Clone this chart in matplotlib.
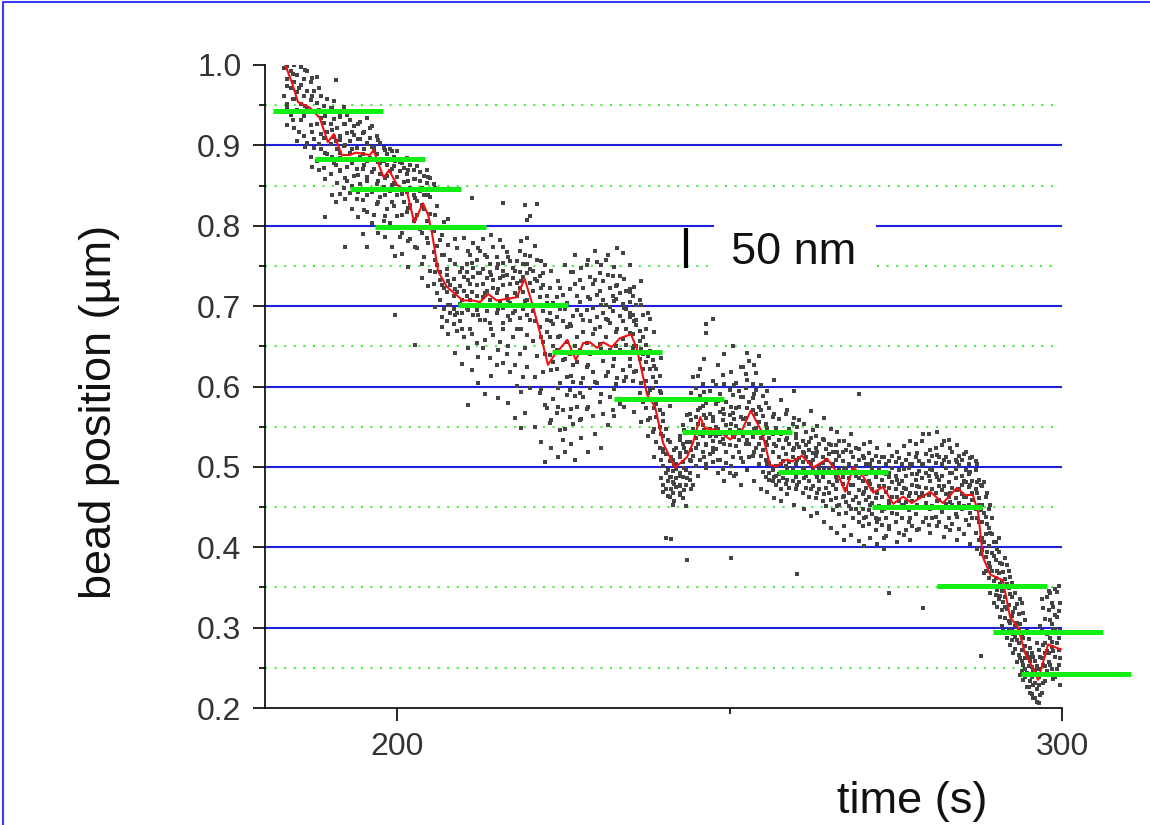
import matplotlib
matplotlib.use('Agg')
import matplotlib.pyplot as plt
from matplotlib.lines import Line2D

plt.rcParams['font.family'] = ['Liberation Sans', 'DejaVu Sans']

solid_levels = [0.9, 0.8, 0.7, 0.6, 0.5, 0.4, 0.3]
dotted_levels = [0.95, 0.85, 0.75, 0.65, 0.55, 0.45, 0.35, 0.25]

# steps fitted by eye: start, end, level
step_start = [181.4, 187.7, 192.9, 196.7, 209.2, 223.3, 232.6, 242.9, 257.3, 271.4, 281.2, 289.6, 293.8]
step_end = [197.9, 204.2, 209.6, 213.4, 225.7, 239.8, 249.2, 259.4, 273.8, 288.0, 297.7, 306.2, 310.4]
step_level = [0.943, 0.883, 0.846, 0.799, 0.701, 0.643, 0.585, 0.543, 0.494, 0.450, 0.352, 0.294, 0.242]

# smoothed trace
trace_t = [183.2, 183.3, 184.2, 185.1, 186.9, 188.4, 189.6, 190.5, 191.7, 192.9, 193.8, 195.9, 196.5, 197.4,
           198.0, 198.8, 200.0, 201.5, 202.6, 203.9, 204.7, 205.3, 206.2, 207.5, 209.9, 211.4, 212.5, 213.7,
           215.0, 218.0, 219.2, 220.3, 221.5, 222.7, 223.5, 225.6, 226.9, 228.0, 229.0, 230.1, 231.0, 232.3,
           233.5, 235.2, 236.1, 237.6, 238.8, 240.0, 241.8, 243.6, 244.5, 245.6, 246.3, 248.1, 250.1, 251.9,
           253.2, 254.9, 256.1, 257.1, 258.6, 259.5, 260.9, 262.6, 264.7, 266.2, 267.4, 268.6, 270.1, 271.6,
           273.1, 274.6, 276.1, 277.4, 280.2, 282.1, 284.2, 285.4, 286.6, 287.4, 288.1, 289.2, 291.1, 292.2,
           293.4, 294.4, 295.9, 296.4, 297.4, 297.9, 299.8]
trace_y = [1.0, 0.998, 0.978, 0.954, 0.947, 0.934, 0.904, 0.914, 0.888, 0.888, 0.891, 0.888, 0.894, 0.873,
           0.860, 0.869, 0.851, 0.842, 0.804, 0.828, 0.813, 0.789, 0.743, 0.724, 0.707, 0.707, 0.705, 0.715,
           0.707, 0.711, 0.734, 0.704, 0.667, 0.627, 0.637, 0.658, 0.633, 0.654, 0.655, 0.648, 0.655, 0.649,
           0.660, 0.665, 0.646, 0.590, 0.575, 0.530, 0.499, 0.512, 0.530, 0.562, 0.548, 0.546, 0.534, 0.546,
           0.570, 0.543, 0.502, 0.501, 0.509, 0.507, 0.514, 0.499, 0.510, 0.493, 0.469, 0.499, 0.488, 0.468,
           0.475, 0.454, 0.463, 0.455, 0.469, 0.455, 0.474, 0.465, 0.465, 0.443, 0.388, 0.366, 0.359, 0.313,
           0.300, 0.269, 0.245, 0.235, 0.264, 0.279, 0.273]

# raw readings: each row is time, then positions
dots_a = [
    (183.0, .996, .962, .941), (183.5, .983, .951, .999, .925), (184.0, .971, .992, .938), (184.5, .958, 1.0, .921, .979),
    (185.0, .987, .944, .905, .966), (185.5, .931, .975, .998, .952), (186.0, .912, .961, .983, .937), (186.5, .968, .903, .945, .992),
    (187.0, .925, .957, .886, .979), (187.5, .941, .908, .968, .897), (188.0, .881, .953, .926, .985), (188.5, .934, .895, .962, .914),
    (189.0, .872, .949, .909, .928), (189.5, .941, .889, .958, .917), (190.0, .864, .926, .902, .947), (190.5, .933, .878, .955, .911),
    (191.0, .853, .921, .895, .942), (191.5, .907, .869, .935, .884), (192.0, .926, .847, .899, .948), (192.5, .915, .873, .938, .856),
    (193.0, .891, .931, .841, .905), (193.5, .924, .862, .882, .913), (194.0, .833, .897, .941, .871), (194.5, .908, .852, .929, .886),
    (195.0, .819, .875, .917, .895), (195.5, .902, .838, .934, .861), (196.0, .884, .909, .846, .921), (196.5, .871, .813, .898, .893),
    (197.0, .827, .889, .912, .852), (197.5, .865, .903, .836, .878),
]
dots_b = [
    (198.0, .806, .881, .897, .848), (198.5, .862, .889, .821, .875), (199.0, .843, .895, .803, .868), (199.5, .874, .825, .886, .853),
    (200.0, .861, .893, .812, .838), (200.5, .879, .786, .846, .868), (201.0, .829, .872, .855, .798), (201.5, .884, .817, .864, .842),
    (202.0, .847, .783, .875, .826), (202.5, .869, .806, .838, .858), (203.0, .831, .874, .772, .813), (203.5, .856, .796, .843, .867),
    (204.0, .821, .862, .761, .838), (204.5, .853, .785, .806, .869), (205.0, .744, .836, .815, .859), (205.5, .794, .852, .728, .767),
    (206.0, .824, .716, .775, .751), (206.5, .782, .708, .742, .733), (207.0, .763, .697, .722, .805), (207.5, .718, .681, .746, .739),
    (208.0, .701, .758, .691, .726), (208.5, .734, .678, .712, .696), (209.0, .772, .691, .669, .718), (209.5, .742, .703, .725, .682),
    (210.0, .785, .661, .719, .736), (210.5, .698, .752, .713, .743), (211.0, .672, .727, .764, .708), (211.5, .736, .689, .778, .747),
    (212.0, .654, .712, .758, .726, .695), (212.5, .741, .702, .683, .769), (213.0, .728, .746, .648, .711, .784), (213.5, .694, .761, .719, .735),
    (214.0, .636, .742, .708, .752, .679), (214.5, .722, .773, .664, .733), (215.0, .748, .691, .627, .716, .761), (215.5, .705, .735, .655, .782),
    (216.0, .672, .726, .754, .698, .744), (216.5, .739, .641, .712, .767), (217.0, .618, .683, .728, .756, .704), (217.5, .735, .662, .747, .692),
    (218.0, .713, .601, .756, .729, .672), (218.5, .743, .685, .722, .769, .641), (219.0, .697, .736, .752, .612, .718), (219.5, .741, .664, .785, .708),
    (220.0, .729, .683, .762, .598, .746, .812), (220.5, .719, .656, .694, .744), (221.0, .702, .638, .757, .731, .827), (221.5, .674, .711, .592, .737),
]
dots_c = [
    (222.0, .694, .655, .726, .618, .741), (222.5, .668, .712, .573, .704, .683), (223.0, .639, .691, .722, .554, .661), (223.5, .678, .704, .585, .631, .651),
    (224.0, .622, .687, .711, .567, .645), (224.5, .663, .546, .696, .604, .722), (225.0, .633, .682, .534, .571, .714), (225.5, .655, .612, .704, .589, .674),
    (226.0, .596, .678, .721, .562, .641), (226.5, .688, .627, .553, .743, .606), (227.0, .574, .661, .712, .631, .695), (227.5, .705, .592, .646, .733, .558),
    (228.0, .683, .611, .668, .722, .587), (228.5, .624, .751, .695, .572, .654), (229.0, .709, .598, .641, .682, .736), (229.5, .665, .727, .563, .618, .698),
    (230.0, .687, .604, .755, .642, .714), (230.5, .719, .581, .674, .653, .741), (231.0, .632, .692, .566, .731, .708), (231.5, .701, .613, .757, .662, .684),
    (232.0, .645, .723, .587, .679, .699), (232.5, .694, .625, .738, .571, .712), (233.0, .668, .709, .603, .725, .651), (233.5, .716, .578, .688, .645, .738),
    (234.0, .681, .621, .703, .659, .766), (234.5, .697, .612, .672, .719, .652), (235.0, .666, .705, .634, .721, .687), (235.5, .689, .607, .648, .712, .665),
    (236.0, .702, .651, .683, .619, .677), (236.5, .634, .669, .708, .592, .656), (237.0, .661, .581, .689, .622, .641), (237.5, .607, .652, .573, .631, .672),
    (238.0, .644, .596, .561, .622, .684), (238.5, .583, .612, .543, .633, .598), (239.0, .562, .605, .531, .578, .622), (239.5, .594, .549, .524, .571, .613),
]
dots_d = [
    (240.0, .539, .501, .566, .478, .522), (240.5, .516, .473, .547, .493, .412), (241.0, .488, .531, .462, .507, .576), (241.5, .509, .468, .495, .481, .452),
    (242.0, .497, .475, .523, .486, .504), (242.5, .467, .512, .493, .539, .478), (243.0, .506, .487, .461, .528, .552), (243.5, .478, .518, .542, .496, .451),
    (244.0, .531, .492, .566, .509, .484), (244.5, .513, .478, .584, .547, .612), (245.0, .562, .501, .536, .598, .524), (245.5, .541, .588, .508, .622, .573),
    (246.0, .552, .519, .603, .576, .538), (246.5, .527, .579, .561, .503, .678), (247.0, .594, .538, .516, .566, .547), (247.5, .557, .506, .585, .532, .524),
    (248.0, .522, .578, .549, .602, .538), (248.5, .568, .509, .541, .591, .531), (249.0, .535, .614, .497, .558, .572), (249.5, .519, .552, .581, .541, .505),
    (250.0, .596, .527, .546, .492, .564), (250.5, .538, .567, .512, .589, .651), (251.0, .551, .491, .604, .526, .573), (251.5, .574, .518, .546, .533, .595),
    (252.0, .506, .587, .559, .624, .538), (252.5, .561, .529, .598, .544, .615), (253.0, .581, .512, .632, .553, .528), (253.5, .537, .603, .571, .514, .586),
    (254.0, .596, .548, .523, .617, .566), (254.5, .529, .574, .503, .556, .638), (255.0, .541, .494, .588, .521, .563), (255.5, .509, .553, .487, .531, .579),
    (256.0, .492, .536, .573, .505, .484), (256.5, .518, .482, .562, .496, .541), (257.0, .501, .548, .477, .526, .489), (257.5, .534, .491, .512, .559, .483),
]
dots_e = [
    (258.0, .507, .544, .486, .523, .493), (258.5, .479, .516, .566, .501, .534), (259.0, .529, .492, .506, .547, .474), (259.5, .512, .553, .483, .521, .497),
    (260.0, .488, .536, .503, .472, .541), (260.5, .525, .494, .558, .511, .481), (261.0, .498, .467, .532, .518, .506), (261.5, .543, .489, .512, .474, .527),
    (262.0, .506, .531, .482, .463, .521), (262.5, .476, .517, .497, .546, .509), (263.0, .524, .461, .491, .513, .538), (263.5, .501, .483, .529, .472, .498),
    (264.0, .458, .512, .535, .488, .505), (264.5, .493, .474, .522, .508, .451), (265.0, .516, .481, .468, .529, .499), (265.5, .446, .503, .477, .519, .492),
    (266.0, .488, .527, .461, .509, .472), (266.5, .513, .453, .496, .441, .532), (267.0, .479, .507, .462, .488, .518), (267.5, .498, .442, .521, .473, .456),
    (268.0, .468, .504, .451, .527, .486), (268.5, .436, .497, .478, .512, .459), (269.0, .489, .523, .463, .447, .501), (269.5, .471, .432, .509, .493, .455),
    (270.0, .514, .448, .482, .426, .466), (270.5, .459, .503, .474, .438, .491), (271.0, .483, .429, .517, .463, .446), (271.5, .498, .441, .472, .508, .455),
    (272.0, .436, .487, .461, .513, .422), (272.5, .476, .451, .497, .435, .506), (273.0, .463, .512, .428, .484, .445), (273.5, .491, .437, .469, .503, .414),
    (274.0, .452, .507, .474, .423, .487), (274.5, .481, .442, .498, .463, .514), (275.0, .431, .472, .506, .489, .449), (275.5, .496, .458, .418, .479, .511),
    (276.0, .468, .504, .437, .483, .452), (276.5, .489, .421, .473, .509, .456), (277.0, .446, .498, .464, .516, .431), (277.5, .478, .503, .427, .457, .491),
    (278.0, .512, .441, .484, .468, .528), (278.5, .462, .495, .423, .507, .475), (279.0, .486, .449, .532, .468, .502), (279.5, .436, .493, .516, .474, .455),
    (280.0, .507, .465, .428, .489, .541), (280.5, .472, .513, .451, .496, .436), (281.0, .491, .438, .523, .468, .505), (281.5, .459, .484, .512, .432, .476),
    (282.0, .503, .444, .471, .527, .489), (282.5, .466, .498, .425, .512, .454), (283.0, .481, .437, .506, .463, .534), (283.5, .452, .493, .474, .518, .429),
    (284.0, .508, .461, .486, .441, .497), (284.5, .473, .423, .502, .455, .513), (285.0, .489, .447, .466, .509, .478), (285.5, .434, .496, .462, .481, .518),
    (286.0, .504, .452, .475, .428, .491), (286.5, .468, .512, .437, .483, .459), (287.0, .496, .418, .473, .448, .507), (287.5, .461, .484, .431, .409, .452),
]
dots_f = [
    (288.0, .453, .412, .476, .431, .396), (288.5, .438, .388, .462, .417, .371), (289.0, .402, .447, .362, .381, .424), (289.5, .416, .371, .351, .393, .436),
    (290.0, .384, .341, .407, .362, .352), (290.5, .368, .394, .335, .351, .412), (291.0, .346, .379, .322, .358, .302), (291.5, .361, .312, .338, .387, .326),
    (292.0, .328, .349, .297, .371, .308), (292.5, .338, .285, .315, .356, .296), (293.0, .302, .324, .343, .274, .288), (293.5, .317, .281, .266, .298, .352),
    (294.0, .258, .292, .331, .272, .246), (294.5, .277, .238, .309, .262, .249), (295.0, .252, .286, .226, .264, .241), (295.5, .239, .269, .218, .251, .294),
    (296.0, .231, .258, .242, .212, .247), (296.5, .249, .206, .228, .272, .238), (297.0, .262, .219, .296, .241, .336), (297.5, .281, .252, .311, .234, .268),
    (298.0, .322, .268, .293, .346, .257), (298.5, .276, .304, .249, .331, .282), (299.0, .298, .263, .348, .316, .238), (299.5, .287, .321, .254, .352, .272),
]
# second pass of readings, between the first ones and further out
dots_g = [
    (183.4, .974, .946), (184.3, .989, .931, .958), (185.3, .917, .972, .943), (186.2, .949, .898, .994), (187.2, .961, .873, .917, .984),
    (188.3, .902, .944, .869, .971), (189.2, .936, .858, .891, .811), (190.2, .947, .838, .919, .886), (190.8, .981, .875, .829, .906),
    (191.4, .84, .912, .868, .937, .891), (192.2, .774, .901, .859, .926, .833), (193.2, .878, .821, .917, .849, .896), (194.2, .908, .811, .863, .927, .842),
    (194.9, .79, .889, .832, .915, .871), (195.5, .774, .856, .903, .817, .881), (196.2, .898, .803, .867, .842, .924), (197.2, .879, .791, .856, .907, .829),
    (198.2, .838, .786, .894, .859, .812), (199.2, .871, .774, .829, .851, .893), (199.7, .689, .852, .798, .881, .762), (200.7, .839, .765, .878, .813, .791),
    (201.7, .856, .749, .822, .869, .781), (202.7, .652, .834, .773, .858, .809), (203.7, .752, .847, .791, .826, .735), (204.7, .725, .861, .779, .838, .806),
    (205.7, .699, .813, .758, .742, .847), (206.7, .687, .789, .726, .764, .674), (207.7, .665, .776, .702, .731, .809), (208.7, .642, .753, .689, .721, .784),
    (209.7, .628, .747, .671, .708, .691), (210.7, .577, .732, .648, .695, .768), (211.3, .835, .621, .718, .665, .754), (212.2, .604, .689, .741, .637, .772),
    (213.2, .591, .716, .658, .763, .683), (214.2, .613, .739, .672, .788, .702), (215.2, .586, .697, .645, .753, .721), (215.9, .828, .629, .679, .738, .774),
    (216.7, .579, .707, .651, .761, .688), (217.7, .561, .694, .627, .744, .716), (218.7, .593, .672, .731, .548, .781), (219.2, .826, .567, .706, .648, .763),
    (219.5, .807, .624, .689, .752), (220.7, .549, .681, .612, .734, .775), (221.7, .531, .662, .597, .723, .756), (222.3, .506, .641, .577, .702, .751),
    (223.2, .524, .621, .682, .558, .744), (224.2, .512, .598, .661, .731, .574), (225.2, .547, .634, .519, .697, .751), (226.2, .529, .613, .675, .572, .742),
    (226.8, .509, .651, .588, .728, .764), (227.7, .536, .604, .689, .559, .747), (228.7, .518, .627, .711, .574, .758), (229.7, .541, .606, .672, .733, .768),
    (230.7, .523, .647, .591, .702, .751), (231.7, .552, .618, .683, .739, .763), (232.7, .563, .634, .706, .597, .749), (233.1, .772, .611, .672, .726, .584),
    (234.2, .574, .643, .698, .734, .607), (235.0, .751, .583, .626, .692, .718), (235.7, .568, .618, .681, .724, .651), (236.7, .556, .604, .647, .702, .731),
    (237.7, .539, .592, .638, .691, .558), (238.7, .512, .573, .625, .668, .547), (239.7, .486, .541, .592, .636, .508),
]
dots_h = [
    (240.0, .469, .519, .557, .583), (240.7, .496, .464, .534, .482), (241.2, .41, .487, .512, .473), (241.7, .458, .502, .521, .479),
    (242.6, .465, .489, .517, .476, .533), (243.2, .498, .471, .546, .523), (243.6, .384, .486, .531, .564), (244.2, .507, .473, .558, .592, .521),
    (245.2, .489, .529, .571, .613, .553), (246.2, .512, .546, .593, .634, .564), (246.5, .667, .498, .581, .529), (247.5, .684, .518, .562, .607, .541),
    (248.2, .493, .547, .582, .627, .509), (249.2, .482, .529, .566, .603, .641), (250.2, .387, .501, .553, .618, .574), (250.7, .489, .537, .602, .559),
    (251.7, .511, .478, .562, .624, .587), (252.7, .496, .534, .573, .642, .608), (253.7, .482, .547, .591, .627, .519), (254.7, .473, .513, .571, .602, .536),
    (255.7, .469, .527, .548, .594, .503), (256.7, .487, .461, .529, .566, .608), (257.7, .458, .504, .541, .583, .473), (258.7, .466, .498, .536, .571, .484),
    (259.7, .452, .492, .523, .561, .594), (260.2, .367, .478, .509, .549, .528), (261.2, .447, .486, .517, .553, .498), (262.2, .439, .473, .504, .536, .569),
    (263.2, .443, .487, .519, .551, .467), (264.2, .432, .466, .497, .534, .561), (265.2, .424, .459, .492, .527, .547), (266.2, .418, .451, .483, .518, .543),
    (267.2, .427, .464, .498, .532, .409), (268.2, .415, .447, .478, .519, .541), (269.5, .591, .408, .443, .486, .522), (270.2, .402, .437, .469, .511, .528),
    (271.2, .411, .452, .479, .503, .531), (272.2, .404, .431, .468, .494, .524), (273.2, .412, .447, .476, .512, .398), (274.0, .343, .426, .458, .493, .527),
    (275.2, .407, .441, .484, .519, .463), (276.2, .415, .452, .497, .526, .474), (277.2, .409, .437, .468, .503, .532), (278.2, .421, .453, .491, .517, .476),
    (279.1, .325, .432, .464, .503, .541), (280.2, .418, .447, .482, .521, .497), (281.2, .426, .458, .487, .515, .544), (282.2, .413, .449, .476, .508, .532),
    (283.2, .421, .456, .492, .523, .468), (284.2, .409, .438, .471, .506, .527), (285.2, .417, .451, .483, .516, .462), (286.2, .404, .442, .478, .511, .494),
    (287.2, .398, .436, .467, .503, .481), (287.8, .265, .412, .446, .478, .392),
    (288.2, .368, .406, .442, .481), (288.7, .351, .394, .429, .467), (289.2, .376, .343, .418, .452), (289.7, .358, .389, .331, .407),
    (290.2, .326, .371, .398, .347), (290.7, .313, .354, .381, .339), (291.2, .296, .332, .369, .348), (291.7, .287, .323, .354, .378),
    (292.2, .306, .278, .342, .363), (292.7, .269, .319, .292, .351), (293.2, .284, .257, .329, .306), (293.7, .262, .304, .241, .336),
    (294.2, .235, .287, .254, .318), (294.7, .226, .268, .243, .296), (295.2, .219, .258, .275, .234), (295.7, .213, .246, .263, .228),
    (296.2, .224, .207, .252, .281), (296.7, .216, .241, .263, .302), (297.2, .231, .279, .325, .254), (297.7, .246, .292, .338, .271),
    (298.2, .254, .287, .309, .343), (298.7, .236, .271, .298, .326), (299.2, .248, .281, .313, .344), (299.7, .262, .296, .331, .229),
]

fig = plt.figure(figsize=(11.5, 8.25), dpi=100)
ax = fig.add_axes([265 / 1150, 1 - 708 / 825, (1062 - 265) / 1150, (708 - 65) / 825])
ax.set_xlim(180.15, 300)
ax.set_ylim(0.2, 1.0)

# image border, only left and top show
fig.add_artist(Line2D([0.0025, 0.0025, 1.0], [0, 0.9975, 0.9975], color='#3a3aff', lw=1.5))

gap_start, gap_end = 247.5, 272.2
dot_style = (0, (1, 3.6))
for lev in dotted_levels:
    if lev == 0.75:
        ax.plot([180.15, gap_start], [lev, lev], color='#44ee44', lw=1.5, ls=dot_style, zorder=1)
        ax.plot([gap_end, 299], [lev, lev], color='#44ee44', lw=1.5, ls=dot_style, zorder=1)
    else:
        ax.plot([180.15, 299], [lev, lev], color='#44ee44', lw=1.5, ls=dot_style, zorder=1)
for lev in solid_levels:
    if lev == 0.8:
        ax.plot([180.15, gap_start], [lev, lev], color='#2020d8', lw=1.5, zorder=1)
        ax.plot([gap_end, 300], [lev, lev], color='#2020d8', lw=1.5, zorder=1)
    else:
        ax.plot([180.15, 300], [lev, lev], color='#2020d8', lw=1.5, zorder=1)

dot_t = []
dot_y = []
for rows in [dots_a, dots_b, dots_c, dots_d, dots_e, dots_f, dots_g, dots_h]:
    for row in rows:
        for val in row[1:]:
            dot_t.append(row[0])
            dot_y.append(val)
ax.scatter(dot_t, dot_y, s=6.5, marker='s', color='#444444', linewidths=0, zorder=2)

ax.plot(trace_t, trace_y, color='#ee1111', lw=1.5, zorder=3)

for start, end, lev in zip(step_start, step_end, step_level):
    ax.plot([start, end], [lev, lev], color='#11ee11', lw=3.6, solid_capstyle='butt', clip_on=False, zorder=4)

# 50 nm scale bar
ax.plot([243.5, 243.5], [0.747, 0.797], color='black', lw=3, solid_capstyle='butt', zorder=5)
ax.text(250.2, 0.767, '50 nm', fontsize=32.5, color='#111111', va='center', ha='left')

for side in ['top', 'right']:
    ax.spines[side].set_visible(False)
ax.spines['left'].set_linewidth(1.2)
ax.spines['bottom'].set_linewidth(1.2)

ax.set_xticks([200, 300])
ax.set_xticks([250], minor=True)
ax.set_yticks([0.2, 0.3, 0.4, 0.5, 0.6, 0.7, 0.8, 0.9, 1.0])
ax.set_yticks(dotted_levels, minor=True)
ax.tick_params(axis='both', which='major', length=9, width=1.2, labelsize=23, labelcolor='#333333', pad=8)
ax.tick_params(axis='both', which='minor', length=4.5, width=1.2)

fig.text(100 / 1150, 1 - 412 / 825, 'bead position (µm)', rotation=90, fontsize=32.5, color='#111111',
         ha='center', va='center')
fig.text(912 / 1150, 1 - 801 / 825, 'time (s)', fontsize=32.5, color='#111111', ha='center', va='center')

fig.savefig('out.png', dpi=100)
